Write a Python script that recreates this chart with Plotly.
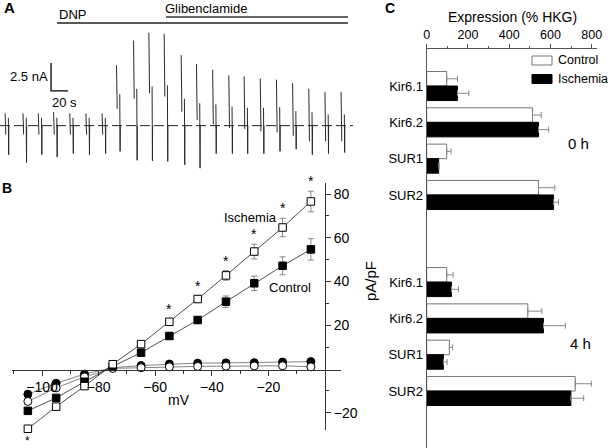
import plotly.graph_objects as go

W, H = 608, 448
FONT = "Arial, Liberation Sans, sans-serif"

# ---- panel A: whole-cell current, one entry per voltage-ramp sweep
sweep_t = [6, 27, 45, 63, 82, 101, 120, 137, 157, 175, 193, 213, 231, 250,
           269, 287, 306, 325, 344, 363, 382, 401]          # s
peak1 = [1.1, 1.1, 1.1, 1.2, 1.1, 1.1, 1.1, 5.4, 7.6, 8.3, 8.2, 6.3, 5.5, 5.0,
         4.5, 4.4, 4.2, 4.1, 3.8, 3.3, 3.0, 3.0]            # nA
end1 = [-0.8, -0.8, -0.8, -0.8, -0.8, -0.8, -0.8, 1.5, 2.4, 2.9, 2.6, 1.25, 0.5,
        0.1, -0.2, -0.3, -0.5, -0.6, -0.9, -1.4, -1.4, -1.4]
peak2 = [0.7, 0.7, 0.7, 0.7, 0.7, 0.7, 0.7, 2.8, 3.3, 3.5, 3.6, 2.4, 2.0, 1.9,
         1.7, 1.6, 1.6, 1.65, 1.3, 1.2, 1.0, 1.0]
trough = [-2.6, -3.3, -2.6, -2.8, -2.5, -2.6, -2.5, -2.3, -3.1, -3.15, -3.2, -3.5,
          -3.8, -2.5, -2.5, -2.5, -2.5, -2.3, -2.1, -2.6, -2.5, -2.4]
SCALE_T, SCALE_I = 20, 2.5   # scale bar: s, nA

# ---- panel B: I-V relation
mv = [-105, -95, -85, -75, -65, -55, -45, -35, -25, -15, -5]
isch = [-27.3, -17.2, -7.8, 2.2, 11.4, 21.6, 32.0, 42.8, 53.7, 64.7, 76.6]
isch_err = [1.5, 1.0, 1.0, 1.0, 1.2, 1.2, 1.5, 2.2, 3.4, 4.2, 4.7]
ctrl = [-19.1, -13.2, -5.8, 1.2, 7.5, 15.1, 22.4, 30.8, 39.2, 47.2, 54.7]
ctrl_err = [1.0, 1.0, 1.0, 1.0, 1.0, 1.2, 1.5, 2.6, 3.3, 4.1, 4.9]
ctrl_glib = [-11.5, -6.5, -2.3, 0.6, 1.6, 2.3, 2.7, 2.8, 2.9, 3.2, 3.4]
isch_glib = [-14.8, -8.6, -3.6, 0.3, 0.6, 1.0, 1.2, 1.3, 1.4, 1.5, 1.0]
glib_err = [0.5] * 11
sig_above = [-55, -45, -35, -25, -15, -5]
sig_below = [-105]

# ---- panel C: K-ATP subunit expression
genes = ["Kir6.1", "Kir6.2", "SUR1", "SUR2"]
ctrl_0h = [97, 513, 97, 542]
ctrl_0h_err = [52, 42, 21, 79]
isch_0h = [149, 542, 58, 615]
isch_0h_err = [55, 49, 3, 24]
ctrl_4h = [97, 490, 110, 720]
ctrl_4h_err = [31, 68, 16, 78]
isch_4h = [120, 566, 81, 699]
isch_4h_err = [34, 106, 18, 62]


def fx(px):
    return px / W


def fy(py):
    return 1 - py / H


def ann(text, px, py, size=13, xanchor="center", yanchor="middle", **kw):
    return dict(text=text, x=fx(px), y=fy(py), xref="paper", yref="paper",
                showarrow=False, xanchor=xanchor, yanchor=yanchor,
                font=dict(size=size, color="black", family=FONT), **kw)


fig = go.Figure()

# A: trace
tx, ty = [], []
for t, a, b, c, d in zip(sweep_t, peak1, end1, peak2, trough):
    tx += [t, t + 0.8, None, t + 3.8, t + 4.2, t + 4.4, None]
    ty += [a, b, None, c, d, 0, None]
fig.add_trace(go.Scatter(x=tx, y=ty, mode="lines", line=dict(color="#2a2a2a", width=1),
                         xaxis="x", yaxis="y", showlegend=False, hoverinfo="skip"))
sb_x, sb_y = 60, 3.1
fig.add_trace(go.Scatter(x=[sb_x, sb_x, sb_x + SCALE_T], y=[sb_y + SCALE_I, sb_y, sb_y],
                         mode="lines", line=dict(color="black", width=1.3),
                         xaxis="x", yaxis="y", showlegend=False, hoverinfo="skip"))

# B: I-V curves
series = [
    ("Control + Glibenclamide", ctrl_glib, glib_err, "circle", "black", "#666"),
    ("Ischemia + Glibenclamide", isch_glib, glib_err, "circle", "white", "#666"),
    ("Control", ctrl, ctrl_err, "square", "black", "#222"),
    ("Ischemia", isch, isch_err, "square", "white", "#222"),
]
for name, vals, err, sym, fill, lc in series:
    fig.add_trace(go.Scatter(
        x=mv, y=vals, name=name, mode="lines+markers", xaxis="x2", yaxis="y2",
        line=dict(color=lc, width=0.8),
        marker=dict(symbol=sym, size=8 if sym == "circle" else 7.5, color=fill,
                    line=dict(color="black", width=1)),
        error_y=dict(type="data", array=err, color="#888", thickness=1, width=3),
        cliponaxis=False, showlegend=False))

# C: expression bars
rows = list(range(4)) + [i + 5.4 for i in range(4)]
fig.add_trace(go.Bar(
    y=rows, x=ctrl_0h + ctrl_4h, orientation="h", name="Control", xaxis="x3", yaxis="y3",
    marker=dict(color="white", line=dict(color="#777", width=1)),
    error_x=dict(type="data", array=ctrl_0h_err + ctrl_4h_err, arrayminus=[0] * 8,
                 symmetric=False, color="#888", thickness=1, width=3),
    showlegend=False))
fig.add_trace(go.Bar(
    y=rows, x=isch_0h + isch_4h, orientation="h", name="Ischemia", xaxis="x3", yaxis="y3",
    marker=dict(color="black", line=dict(color="black", width=1)),
    error_x=dict(type="data", array=isch_0h_err + isch_4h_err, arrayminus=[0] * 8,
                 symmetric=False, color="#888", thickness=1, width=3),
    showlegend=False))

annotations = [
    ann("<b>A</b>", 2, 7, size=15, xanchor="left"),
    ann("DNP", 57, 14, xanchor="left"),
    ann("Glibenclamide", 163, 8, xanchor="left"),
    dict(text="2.5 nA", x=sb_x, y=4.4, xref="x", yref="y", xanchor="right", xshift=-1,
         showarrow=False, font=dict(size=13, color="black", family=FONT)),
    dict(text="20 s", x=sb_x, y=2.05, xref="x", yref="y", xanchor="left", xshift=-1,
         showarrow=False, font=dict(size=13, color="black", family=FONT)),
    ann("<b>B</b>", 0, 188, size=14, xanchor="left"),
    ann("mV", 179, 400, size=14),
    ann("pA/pF", 370, 281, size=15, textangle=-90),
    dict(text="Ischemia", x=-26.5, y=69.5, xref="x2", yref="y2", showarrow=False,
         font=dict(size=13, color="black", family=FONT)),
    dict(text="Control", x=-12.4, y=37.5, xref="x2", yref="y2", showarrow=False,
         font=dict(size=13, color="black", family=FONT)),
    ann("<b>C</b>", 383, 8, size=14, xanchor="left"),
    ann("Expression (% HKG)", 512, 17, size=14),
    ann("Control", 556, 60, size=12.5, xanchor="left"),
    ann("Ischemia", 556, 79, size=12.5, xanchor="left"),
    ann("0 h", 578, 143, size=15),
    ann("4 h", 580, 343, size=15),
]
for v in sig_above:
    i = mv.index(v)
    annotations.append(dict(text="*", x=v, y=isch[i] + isch_err[i], xref="x2", yref="y2",
                            yanchor="bottom", showarrow=False,
                            font=dict(size=14, color="black", family=FONT)))
for v in sig_below:
    i = mv.index(v)
    annotations.append(dict(text="*", x=v, y=isch[i], xref="x2", yref="y2", yanchor="top",
                            yshift=-3, showarrow=False,
                            font=dict(size=12, color="black", family=FONT)))

shapes = [
    dict(type="line", xref="paper", yref="paper", x0=fx(57), x1=fx(348), y0=fy(23), y1=fy(23),
         line=dict(color="#222", width=1.5)),
    dict(type="line", xref="paper", yref="paper", x0=fx(166), x1=fx(348), y0=fy(17), y1=fy(17),
         line=dict(color="#333", width=1.5)),
    dict(type="line", xref="x domain", yref="y", x0=0, x1=1, y0=0, y1=0,
         line=dict(color="#222", width=1, dash="10px,4px")),
    dict(type="rect", xref="paper", yref="paper", x0=fx(532), x1=fx(552), y0=fy(65), y1=fy(56),
         fillcolor="white", line=dict(color="#777", width=1)),
    dict(type="rect", xref="paper", yref="paper", x0=fx(532), x1=fx(552), y0=fy(83.5), y1=fy(74.5),
         fillcolor="black", line=dict(color="black", width=1)),
]

axcol = "#333"
common = dict(showgrid=False, zeroline=False, automargin=False)
fig.update_layout(
    template="none",
    width=W, height=H, margin=dict(l=0, r=0, t=0, b=0, pad=0),
    paper_bgcolor="white", plot_bgcolor="white",
    font=dict(family=FONT, size=13, color="black"),
    barmode="group", bargap=0.2, bargroupgap=0,
    xaxis=dict(domain=[0, fx(353)], range=[0, 415], visible=False, **common),
    yaxis=dict(domain=[fy(176), fy(24.9)], range=[-4.5, 9], visible=False, **common),
    xaxis2=dict(domain=[fx(12.3), fx(340.6)], range=[-110.5, 5.5], anchor="free",
                position=fy(369.5), showline=True, linecolor=axcol, linewidth=1,
                ticks="outside", ticklen=5, tickcolor=axcol,
                tickvals=[-100, -80, -60, -40, -20], tickfont=dict(size=14),
                minor=dict(tickvals=[-110, -90, -70, -50, -30, -10], ticks="outside",
                           ticklen=3, tickcolor=axcol),
                **common),
    yaxis2=dict(domain=[fy(430.3), fy(183.1)], range=[-28, 85], anchor="free",
                position=fx(325), side="right", showline=True, linecolor=axcol,
                linewidth=1, ticks="outside", ticklen=5, tickcolor=axcol,
                tickvals=[-20, 20, 40, 60, 80], tickfont=dict(size=14),
                minor=dict(tickvals=[-10, 10, 30, 50, 70], ticks="outside",
                           ticklen=3, tickcolor=axcol),
                **common),
    xaxis3=dict(domain=[fx(426.7), fx(596.9)], range=[0, 825], anchor="y3", side="top",
                showline=True, linecolor="#555", linewidth=1, ticks="outside", ticklen=4,
                tickcolor="#555", tickvals=[0, 200, 400, 600, 800], tickfont=dict(size=12.5),
                minor=dict(tickvals=[100, 300, 500, 700], ticks="outside", ticklen=2.5,
                           tickcolor="#555"),
                **common),
    yaxis3=dict(domain=[0, fy(49)], range=[9.97, -1.02], anchor="x3", showline=True,
                linecolor="#555", linewidth=1, ticks="", tickvals=rows,
                ticktext=genes + genes, tickfont=dict(size=13),
                **common),
    annotations=annotations,
    shapes=shapes,
)

# the page's default 8px body margin would push the fixed-size figure off the window
fig.write_html("out.html", config={"displayModeBar": False},
               post_script="document.body.style.margin = '0';")
